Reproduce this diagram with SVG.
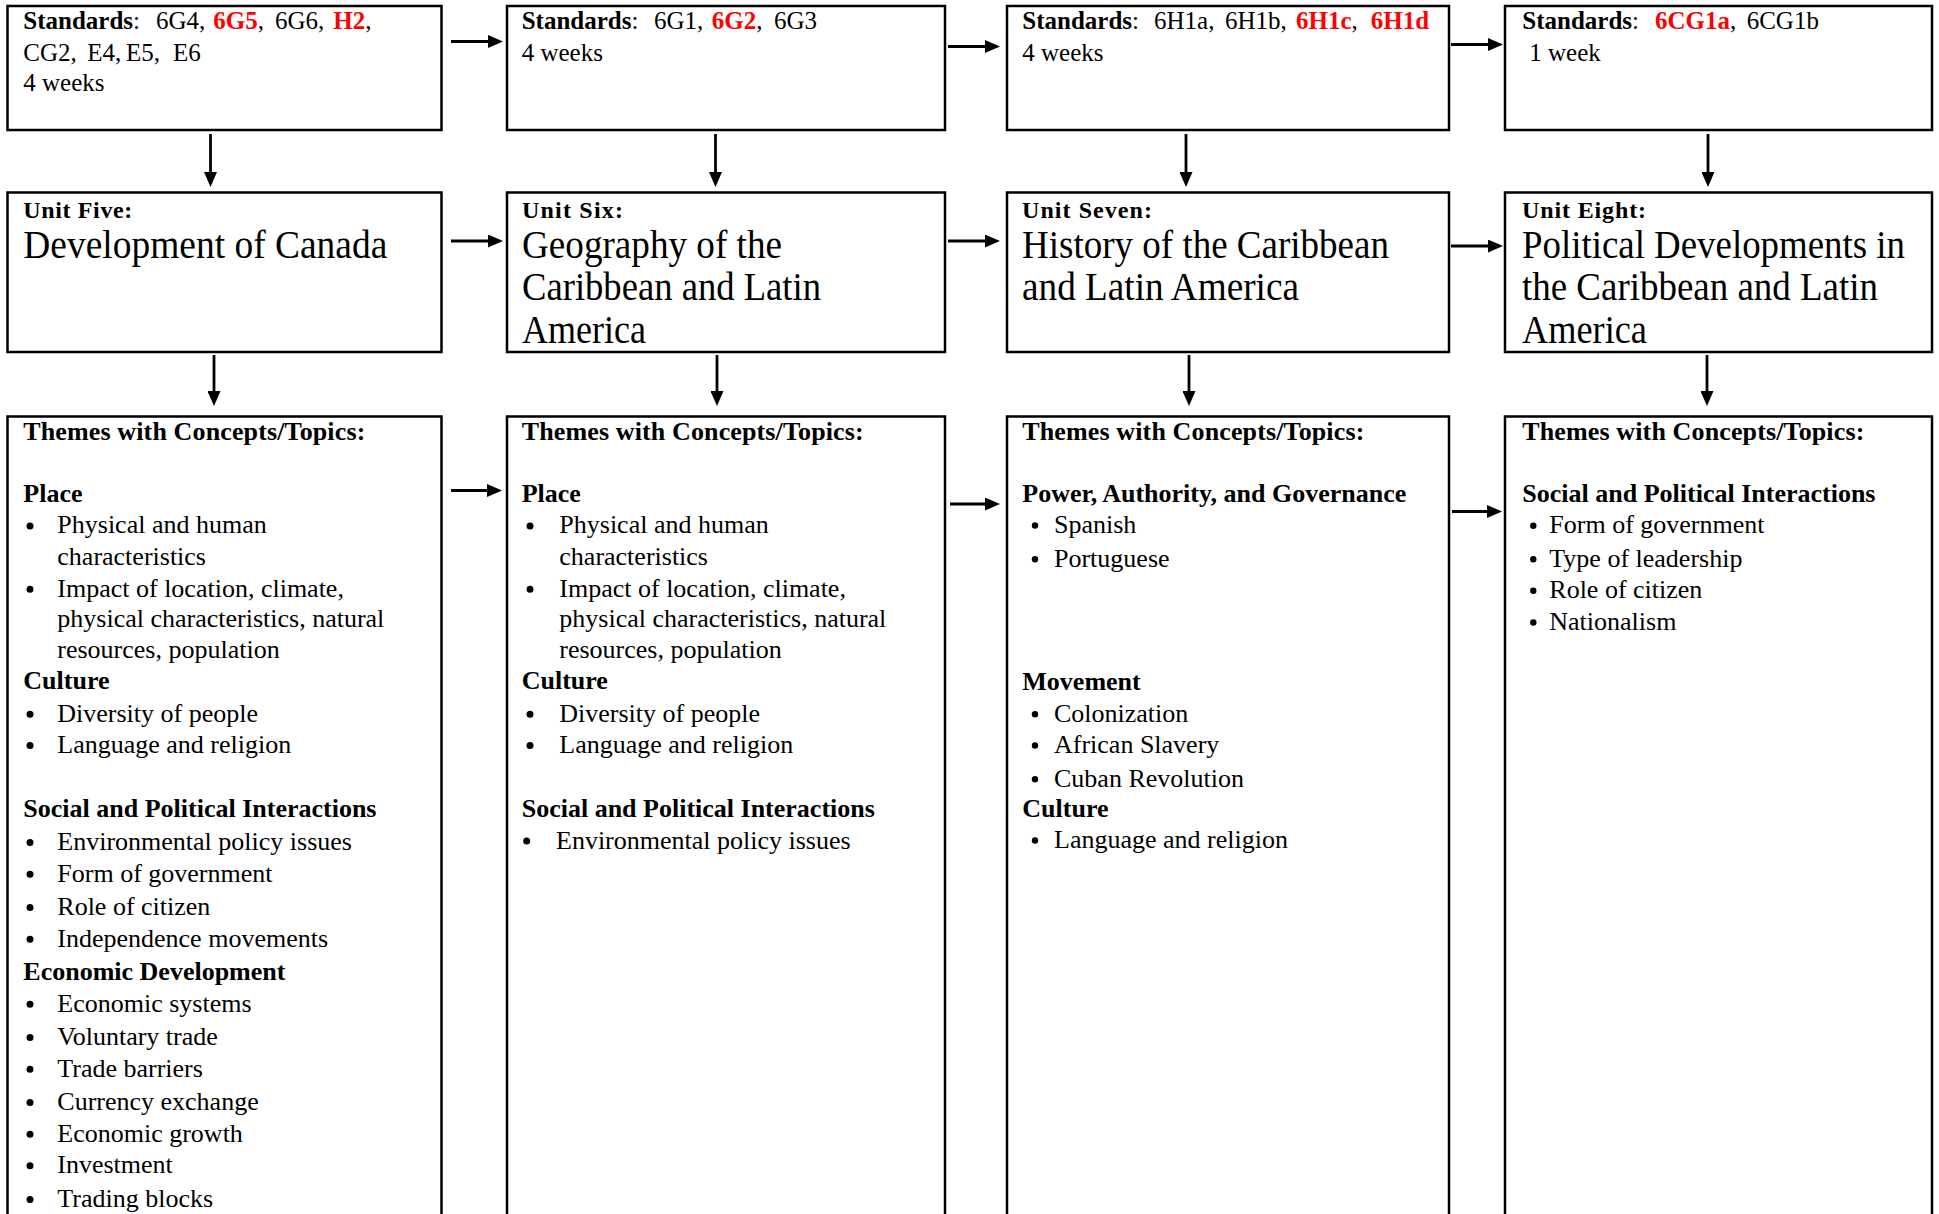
<svg xmlns="http://www.w3.org/2000/svg" width="1939" height="1214" viewBox="0 0 1939 1214">
<style>
text{font-family:"Liberation Serif","Times New Roman",serif;fill:#000}
.box{fill:#fff;stroke:#000;stroke-width:2.5}
.s1{font-size:25px}
.b{font-weight:bold}
.r{fill:#ff0000;font-weight:bold}
.u{font-size:24px;font-weight:bold}
.ti{font-size:39px}
.l{font-size:26px}
.h{font-size:26px;font-weight:bold}
.dot{fill:#000}
.arr{stroke:#000;stroke-width:2.8;fill:none;marker-end:url(#ah)}
</style>
<defs>
<marker id="ah" viewBox="0 0 15 13" refX="0" refY="6.5" markerWidth="15" markerHeight="13" markerUnits="userSpaceOnUse" orient="auto"><path d="M0,0 L15,6.5 L0,13 Z" fill="#000"/></marker>
</defs>
<rect width="1939" height="1214" fill="#fff"/>

<g id="connectors">
<line class="arr" x1="451" y1="41.5" x2="488" y2="41.5"/>
<line class="arr" x1="948" y1="46.5" x2="985" y2="46.5"/>
<line class="arr" x1="1451" y1="44.5" x2="1488" y2="44.5"/>
<line class="arr" x1="451" y1="241" x2="488" y2="241"/>
<line class="arr" x1="948" y1="241" x2="985" y2="241"/>
<line class="arr" x1="1451" y1="246" x2="1488" y2="246"/>
<line class="arr" x1="451" y1="490.5" x2="487" y2="490.5"/>
<line class="arr" x1="950" y1="504" x2="985" y2="504"/>
<line class="arr" x1="1452" y1="511.5" x2="1487" y2="511.5"/>
<line class="arr" x1="210.5" y1="134" x2="210.5" y2="172"/>
<line class="arr" x1="715.5" y1="134" x2="715.5" y2="172"/>
<line class="arr" x1="1186" y1="134" x2="1186" y2="172"/>
<line class="arr" x1="1708" y1="134" x2="1708" y2="172"/>
<line class="arr" x1="214" y1="355" x2="214" y2="391"/>
<line class="arr" x1="717" y1="355" x2="717" y2="391"/>
<line class="arr" x1="1189" y1="355" x2="1189" y2="391"/>
<line class="arr" x1="1707" y1="355" x2="1707" y2="391"/>
</g>

<g id="std5">
<rect class="box" x="7.5" y="6" width="434" height="124"/>
<text class="s1" y="28.5"><tspan x="23.3" class="b">Standards</tspan><tspan>:</tspan><tspan x="156">6G4,</tspan><tspan x="213.3" class="r">6G5</tspan><tspan>,</tspan><tspan x="275">6G6,</tspan><tspan x="333.3" class="r">H2</tspan><tspan>,</tspan></text>
<text class="s1" y="60.5"><tspan x="23.3">CG2,</tspan><tspan x="87.3">E4,</tspan><tspan x="126">E5,</tspan><tspan x="173">E6</tspan></text>
<text class="s1" x="23.3" y="91">4 weeks</text>
</g>
<g id="std6">
<rect class="box" x="507" y="6" width="438" height="124"/>
<text class="s1" y="28.5"><tspan x="521.7" class="b">Standards</tspan><tspan>:</tspan><tspan x="654">6G1,</tspan><tspan x="711.7" class="r">6G2</tspan><tspan>,</tspan><tspan x="774">6G3</tspan></text>
<text class="s1" x="521.7" y="60.5">4 weeks</text>
</g>
<g id="std7">
<rect class="box" x="1007" y="6" width="442" height="124"/>
<text class="s1" y="28.5"><tspan x="1022.3" class="b">Standards</tspan><tspan>:</tspan><tspan x="1154">6H1a,</tspan><tspan x="1225">6H1b,</tspan><tspan x="1296" class="r">6H1c</tspan><tspan>,</tspan><tspan x="1370.7" class="r">6H1d</tspan></text>
<text class="s1" x="1022.3" y="60.5">4 weeks</text>
</g>
<g id="std8">
<rect class="box" x="1505" y="6" width="427" height="124"/>
<text class="s1" y="28.5"><tspan x="1522.3" class="b">Standards</tspan><tspan>:</tspan><tspan x="1655" class="r">6CG1a</tspan><tspan>,</tspan><tspan x="1746.7">6CG1b</tspan></text>
<text class="s1" x="1529.3" y="60.5">1 week</text>
</g>

<g id="unit5">
<rect class="box" x="7.5" y="192.5" width="434" height="159.5"/>
<text class="u" x="23.3" y="218" textLength="109">Unit Five:</text>
<text class="ti" x="23.3" y="257.5" textLength="364" lengthAdjust="spacingAndGlyphs">Development of Canada</text>
</g>
<g id="unit6">
<rect class="box" x="507" y="192.5" width="438" height="159.5"/>
<text class="u" x="522" y="218" textLength="101">Unit Six:</text>
<text class="ti" x="522" y="257.5" textLength="260" lengthAdjust="spacingAndGlyphs">Geography of the</text>
<text class="ti" x="522" y="300" textLength="299" lengthAdjust="spacingAndGlyphs">Caribbean and Latin</text>
<text class="ti" x="522" y="342.5" textLength="124" lengthAdjust="spacingAndGlyphs">America</text>
</g>
<g id="unit7">
<rect class="box" x="1007" y="192.5" width="442" height="159.5"/>
<text class="u" x="1022" y="218" textLength="130">Unit Seven:</text>
<text class="ti" x="1022" y="257.5" textLength="367" lengthAdjust="spacingAndGlyphs">History of the Caribbean</text>
<text class="ti" x="1022" y="300" textLength="277" lengthAdjust="spacingAndGlyphs">and Latin America</text>
</g>
<g id="unit8">
<rect class="box" x="1505" y="192.5" width="427" height="159.5"/>
<text class="u" x="1522" y="218" textLength="124">Unit Eight:</text>
<text class="ti" x="1522" y="257.5" textLength="383" lengthAdjust="spacingAndGlyphs">Political Developments in</text>
<text class="ti" x="1522" y="300" textLength="356" lengthAdjust="spacingAndGlyphs">the Caribbean and Latin</text>
<text class="ti" x="1522" y="342.5" textLength="125" lengthAdjust="spacingAndGlyphs">America</text>
</g>

<g id="themes5">
<rect class="box" x="7.5" y="416.5" width="434" height="820"/>
<text class="h" x="23.3" y="440" textLength="342">Themes with Concepts/Topics:</text>
<text class="h" x="23.3" y="501.7">Place</text>
<circle class="dot" cx="30" cy="526" r="3.5"/><text class="l" x="57.3" y="533.3">Physical and human</text>
<text class="l" x="57.3" y="565">characteristics</text>
<circle class="dot" cx="30" cy="589.2" r="3.5"/><text class="l" x="57.3" y="596.7">Impact of location, climate,</text>
<text class="l" x="57.3" y="627">physical characteristics, natural</text>
<text class="l" x="57.3" y="658">resources, population</text>
<text class="h" x="23.3" y="688.5">Culture</text>
<circle class="dot" cx="30" cy="714.2" r="3.5"/><text class="l" x="57.3" y="721.7">Diversity of people</text>
<circle class="dot" cx="30" cy="745.5" r="3.5"/><text class="l" x="57.3" y="753">Language and religion</text>
<text class="h" x="23.3" y="816.7">Social and Political Interactions</text>
<circle class="dot" cx="30" cy="842.5" r="3.5"/><text class="l" x="57.3" y="850">Environmental policy issues</text>
<circle class="dot" cx="30" cy="874.2" r="3.5"/><text class="l" x="57.3" y="881.7">Form of government</text>
<circle class="dot" cx="30" cy="907.5" r="3.5"/><text class="l" x="57.3" y="915">Role of citizen</text>
<circle class="dot" cx="30" cy="939.2" r="3.5"/><text class="l" x="57.3" y="946.7">Independence movements</text>
<text class="h" x="23.3" y="980">Economic Development</text>
<circle class="dot" cx="30" cy="1004.2" r="3.5"/><text class="l" x="57.3" y="1011.7">Economic systems</text>
<circle class="dot" cx="30" cy="1037.5" r="3.5"/><text class="l" x="57.3" y="1045">Voluntary trade</text>
<circle class="dot" cx="30" cy="1069.2" r="3.5"/><text class="l" x="57.3" y="1076.7">Trade barriers</text>
<circle class="dot" cx="30" cy="1102.5" r="3.5"/><text class="l" x="57.3" y="1110">Currency exchange</text>
<circle class="dot" cx="30" cy="1134.2" r="3.5"/><text class="l" x="57.3" y="1141.7">Economic growth</text>
<circle class="dot" cx="30" cy="1165.8" r="3.5"/><text class="l" x="57.3" y="1173.3">Investment</text>
<circle class="dot" cx="30" cy="1199.5" r="3.5"/><text class="l" x="57.3" y="1207">Trading blocks</text>
</g>

<g id="themes6">
<rect class="box" x="507" y="416.5" width="438" height="820"/>
<text class="h" x="521.7" y="440" textLength="342">Themes with Concepts/Topics:</text>
<text class="h" x="521.7" y="501.7">Place</text>
<circle class="dot" cx="530" cy="526" r="3.5"/><text class="l" x="559.3" y="533.3">Physical and human</text>
<text class="l" x="559.3" y="565">characteristics</text>
<circle class="dot" cx="530" cy="589.2" r="3.5"/><text class="l" x="559.3" y="596.7">Impact of location, climate,</text>
<text class="l" x="559.3" y="627">physical characteristics, natural</text>
<text class="l" x="559.3" y="658">resources, population</text>
<text class="h" x="521.7" y="688.5">Culture</text>
<circle class="dot" cx="530" cy="714.2" r="3.5"/><text class="l" x="559.3" y="721.7">Diversity of people</text>
<circle class="dot" cx="530" cy="745.5" r="3.5"/><text class="l" x="559.3" y="753">Language and religion</text>
<text class="h" x="521.7" y="816.7">Social and Political Interactions</text>
<circle class="dot" cx="526.7" cy="841" r="3.5"/><text class="l" x="556" y="848.5">Environmental policy issues</text>
</g>

<g id="themes7">
<rect class="box" x="1007" y="416.5" width="442" height="820"/>
<text class="h" x="1022.3" y="440" textLength="342">Themes with Concepts/Topics:</text>
<text class="h" x="1022.3" y="501.7">Power, Authority, and Governance</text>
<circle class="dot" cx="1035" cy="525.5" r="3.2"/><text class="l" x="1054" y="533">Spanish</text>
<circle class="dot" cx="1035" cy="559.2" r="3.2"/><text class="l" x="1054" y="566.7">Portuguese</text>
<text class="h" x="1022.3" y="690">Movement</text>
<circle class="dot" cx="1035" cy="714.2" r="3.2"/><text class="l" x="1054" y="721.7">Colonization</text>
<circle class="dot" cx="1035" cy="745.5" r="3.2"/><text class="l" x="1054" y="753">African Slavery</text>
<circle class="dot" cx="1035" cy="779.2" r="3.2"/><text class="l" x="1054" y="786.7">Cuban Revolution</text>
<text class="h" x="1022.3" y="816.7">Culture</text>
<circle class="dot" cx="1035" cy="840.5" r="3.2"/><text class="l" x="1054" y="848">Language and religion</text>
</g>

<g id="themes8">
<rect class="box" x="1505" y="416.5" width="427" height="820"/>
<text class="h" x="1522.3" y="440" textLength="342">Themes with Concepts/Topics:</text>
<text class="h" x="1522.3" y="501.7">Social and Political Interactions</text>
<circle class="dot" cx="1533.3" cy="525.8" r="3.2"/><text class="l" x="1549.3" y="533.3">Form of government</text>
<circle class="dot" cx="1533.3" cy="559.2" r="3.2"/><text class="l" x="1549.3" y="566.7">Type of leadership</text>
<circle class="dot" cx="1533.3" cy="590.8" r="3.2"/><text class="l" x="1549.3" y="598.3">Role of citizen</text>
<circle class="dot" cx="1533.3" cy="622.5" r="3.2"/><text class="l" x="1549.3" y="630">Nationalism</text>
</g>
</svg>
